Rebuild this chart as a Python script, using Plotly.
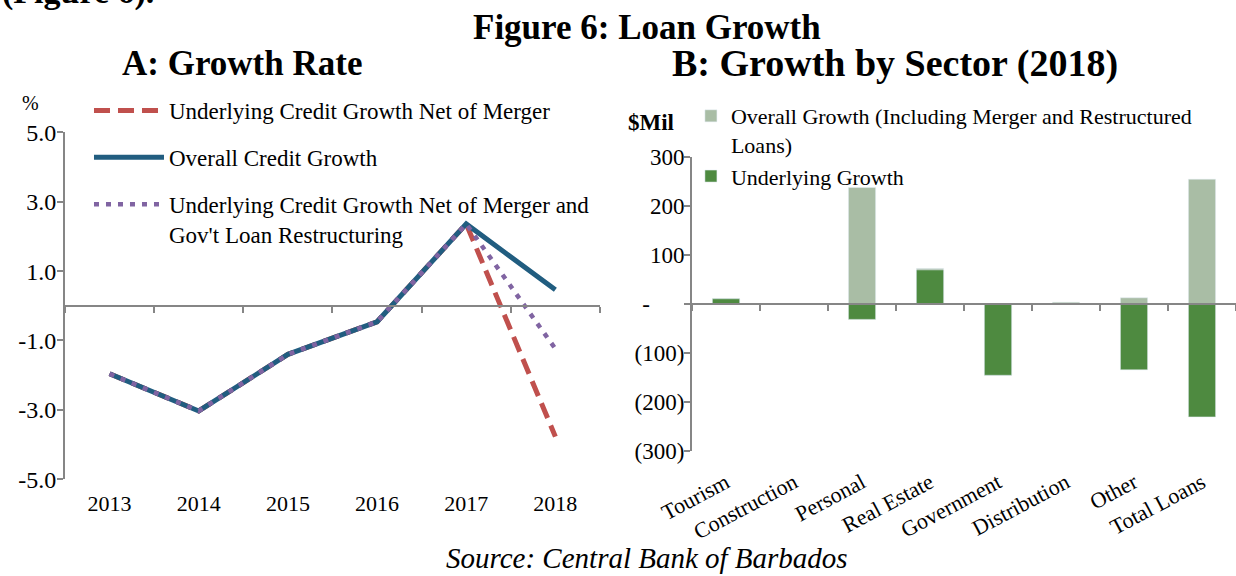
import plotly.graph_objects as go

# Panel A: growth rate (%)
years = ["2013", "2014", "2015", "2016", "2017", "2018"]
overall_credit = [-1.96, -3.03, -1.40, -0.46, 2.36, 0.46]
underlying_net_merger = [-1.96, -3.03, -1.40, -0.46, 2.36, -3.77]
underlying_net_merger_gov = [-1.96, -3.03, -1.40, -0.46, 2.36, -1.24]
pct_ticks = [5, 3, 1, -1, -3, -5]
pct_tick_text = ["5.0", "3.0", "1.0", "-1.0", "-3.0", "-5.0"]

# Panel B: growth by sector, 2018 ($ mil)
sectors = ["Tourism", "Construction", "Personal", "Real Estate",
           "Government", "Distribution", "Other", "Total Loans"]
overall_growth = [10, 0, 237, 72, -146, 3, 12, 254]
underlying_growth = [10, 0, -32, 69, -146, 0, -135, -231]
mil_ticks = [300, 200, 100, 0, -100, -200, -300]
# accounting style: the zero dash sits left of the digits
mil_tick_text = ["300", "200", "100", "-" + "\u00a0" * 6,
                 "(100)", "(200)", "(300)"]

SERIF = "Liberation Serif"
GREY = "#868686"

fig = go.Figure()

# line chart (draw order: red, blue, purple on top)
fig.add_trace(go.Scatter(
    x=years, y=underlying_net_merger, mode="lines",
    name="Underlying Credit Growth Net of Merger",
    line=dict(color="#C0504D", width=5, dash="16px,8px"),
    legend="legend", legendgroup="a",
))
fig.add_trace(go.Scatter(
    x=years, y=overall_credit, mode="lines",
    name="Overall Credit Growth",
    line=dict(color="#215D80", width=5),
    legend="legend", legendgroup="b",
))
fig.add_trace(go.Scatter(
    x=years, y=underlying_net_merger_gov, mode="lines",
    name="Underlying Credit Growth Net of Merger and<br>Gov't Loan Restructuring",
    line=dict(color="#8064A2", width=4.5, dash="5px,7px"),
    legend="legend", legendgroup="c",
))
# invisible helper so the zero-crossing category axis gets its categories
fig.add_trace(go.Scatter(
    x=years, y=overall_credit, xaxis="x3", yaxis="y", mode="markers",
    marker=dict(opacity=0), showlegend=False, hoverinfo="skip",
))

# bar chart, overall behind underlying
fig.add_trace(go.Bar(
    x=sectors, y=overall_growth, xaxis="x2", yaxis="y2", width=0.4,
    name="Overall Growth (Including Merger and Restructured<br>Loans)",
    marker_color="#A9BDA5",
    legend="legend2", legendgroup="d",
))
fig.add_trace(go.Bar(
    x=sectors, y=underlying_growth, xaxis="x2", yaxis="y2", width=0.4,
    name="Underlying Growth",
    marker_color="#4E8A40",
    legend="legend2", legendgroup="e",
))
fig.add_trace(go.Scatter(
    x=sectors, y=underlying_growth, xaxis="x4", yaxis="y2", mode="markers",
    marker=dict(opacity=0), showlegend=False, hoverinfo="skip",
))

axis_line = dict(showline=True, linecolor=GREY, linewidth=2, ticks="outside",
                 ticklen=6, tickwidth=2, tickcolor=GREY,
                 showgrid=False, zeroline=False, automargin=False)
no_line = dict(showline=False, ticks="", showgrid=False, zeroline=False,
               automargin=False)

fig.update_layout(
    width=1236, height=576,
    margin=dict(l=0, r=0, t=0, b=0, autoexpand=False),
    paper_bgcolor="white", plot_bgcolor="rgba(0,0,0,0)",
    font=dict(family=SERIF, color="black", size=20),
    barmode="overlay",
    xaxis=dict(domain=[0.0526, 0.4854], anchor="y", range=[-0.5, 5.5],
               tickfont=dict(size=22), ticklabelstandoff=9, **no_line),
    yaxis=dict(domain=[0.1679, 0.7703], anchor="x", range=[-5, 5],
               tickvals=pct_ticks, ticktext=pct_tick_text,
               tickfont=dict(size=24), ticklabelstandoff=-4, **axis_line),
    xaxis3=dict(overlaying="x", anchor="free", position=0.4691,
                range=[-0.5, 5.5], tickson="boundaries",
                showticklabels=False, **axis_line),
    xaxis2=dict(domain=[0.5599, 1.0], anchor="y2", range=[-0.5, 7.5],
                tickangle=-28, tickfont=dict(size=22), ticklabelstandoff=14,
                **no_line),
    yaxis2=dict(domain=[0.2175, 0.7280], anchor="x2", range=[-300, 300],
                tickvals=mil_ticks, ticktext=mil_tick_text,
                tickfont=dict(size=23), ticklabelstandoff=-5, **axis_line),
    xaxis4=dict(overlaying="x2", anchor="free", position=0.4727,
                range=[-0.5, 7.5], tickson="boundaries",
                showticklabels=False, **axis_line),
    legend=dict(x=0.0720, y=0.8455, xanchor="left", yanchor="top",
                bgcolor="rgba(0,0,0,0)", font=dict(size=23),
                itemwidth=70, tracegroupgap=14, valign="top"),
    legend2=dict(x=0.5590, y=0.8350, xanchor="left", yanchor="top",
                 bgcolor="rgba(0,0,0,0)", font=dict(size=22),
                 tracegroupgap=0, valign="top"),
)

annotations = [
    dict(text="<b>(Figure 6).</b>", x=0.0, y=1 - 13 / 576, xanchor="left",
         yanchor="bottom", font=dict(size=34)),
    dict(text="<b>Figure 6: Loan Growth</b>", x=647 / 1236, y=1 - 27 / 576,
         xanchor="center", yanchor="middle", font=dict(size=35)),
    dict(text="<b>A: Growth Rate</b>", x=242 / 1236, y=1 - 63 / 576,
         xanchor="center", yanchor="middle", font=dict(size=35)),
    dict(text="<b>B: Growth by Sector (2018)</b>", x=895 / 1236, y=1 - 63 / 576,
         xanchor="center", yanchor="middle", font=dict(size=38)),
    dict(text="%", x=30 / 1236, y=1 - 103 / 576, xanchor="center",
         yanchor="middle", font=dict(size=20)),
    dict(text="<b>$Mil</b>", x=651 / 1236, y=1 - 122 / 576, xanchor="center",
         yanchor="middle", font=dict(size=23)),
    dict(text="<i>Source: Central Bank of Barbados</i>", x=647 / 1236,
         y=1 - 558 / 576, xanchor="center", yanchor="middle",
         font=dict(size=29)),
]
for a in annotations:
    a.update(xref="paper", yref="paper", showarrow=False)
fig.update_layout(annotations=annotations)

# drop the default page margin so the figure sits at the window's corner
fig.write_html("out.html", config={"displayModeBar": False},
               post_script="document.body.style.margin='0';")
